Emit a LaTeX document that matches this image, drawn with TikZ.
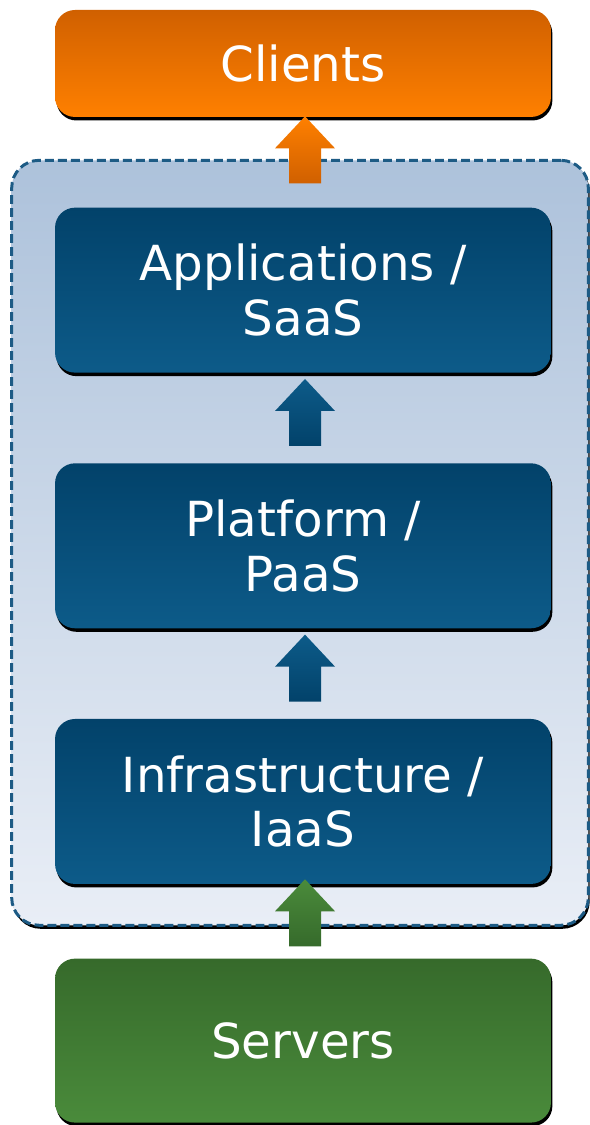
\documentclass[tikz,border=0pt]{standalone}
\usepackage{fontspec}
\setmainfont{DejaVu Sans}
\usepackage{tikz}
\usetikzlibrary{positioning,calc,fit,shadows,backgrounds}
\definecolor{CloudTop}{HTML}{ADC2DB}
\definecolor{CloudBottom}{HTML}{E9EEF6}
\definecolor{CloudEdge}{HTML}{1D5B85}
\definecolor{LayerTop}{HTML}{02426A}
\definecolor{LayerBottom}{HTML}{0D5B89}
\definecolor{ClientTop}{HTML}{D06000}
\definecolor{ClientBottom}{HTML}{FF8000}
\definecolor{ServerTop}{HTML}{366A2B}
\definecolor{ServerBottom}{HTML}{4A8B3B}

\tikzset{
  boxshadow/.style={drop shadow={shadow xshift=0.8pt,shadow yshift=-2pt,opacity=1,fill=black}},
  layer/.style={rectangle,rounded corners=0.4cm,boxshadow,text=white,align=center,
    minimum width=9.92cm,minimum height=3.3cm,inner sep=0pt,
    font=\fontsize{27.5}{31}\selectfont},
  service/.style={layer,top color=LayerTop,bottom color=LayerBottom},
  upbox/.pic={
    \path[pic actions] (-16,-67) -- (-16,-32) -- (-30,-32) -- (0,0) -- (30,-32) -- (16,-32) -- (16,-67) -- cycle;
  }
}

\begin{document}
\begin{tikzpicture}[x=0.02cm,y=0.02cm]
  \useasboundingbox (0,0) rectangle (589,1125);

  % Clients on top
  \node[layer,top color=ClientTop,bottom color=ClientBottom,minimum height=2.14cm] (clients) at (303,1061.5) {Clients};

  % Service layers
  \node[service,below=1.8cm of clients] (saas) {Applications /\\SaaS};
  \node[service,below=1.8cm of saas] (paas) {Platform /\\PaaS};
  \node[service,below=1.8cm of paas] (iaas) {Infrastructure /\\IaaS};

  % Servers at the bottom
  \node[layer,top color=ServerTop,bottom color=ServerBottom,minimum height=3.28cm,below=1.48cm of iaas] (servers) {Servers};

  % Cloud around the layers
  \begin{scope}[on background layer]
    \node[rectangle,rounded corners=0.55cm,boxshadow,draw=CloudEdge,line width=1.7pt,dash pattern=on 5pt off 2.4pt,
      top color=CloudTop,bottom color=CloudBottom,inner sep=0pt,
      fit={($(saas.north west)+(-43,47)$) ($(iaas.south east)+(37,-41)$)}] (cloud) {};
  \end{scope}

  % Arrows
  \pic[boxshadow,top color=ClientBottom,bottom color=ClientTop] at ($(clients.south)+(2,1)$) {upbox};
  \pic[boxshadow,top color=LayerBottom,bottom color=LayerTop] at ($(saas.south)+(2,-6)$) {upbox};
  \pic[boxshadow,top color=LayerBottom,bottom color=LayerTop] at ($(paas.south)+(2,-6)$) {upbox};
  \pic[boxshadow,top color=ServerBottom,bottom color=ServerTop] at ($(iaas.south)+(2,5)$) {upbox};
\end{tikzpicture}
\end{document}
